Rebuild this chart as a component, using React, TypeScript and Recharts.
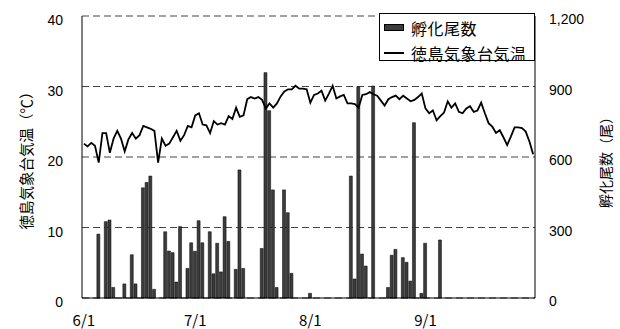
import React from 'react';
import { ComposedChart, Bar, Line, XAxis, YAxis, CartesianGrid, Legend } from 'recharts';

// Categories: every day from 6/1 to 9/30
const MONTHS = [6, 7, 8, 9];
const MONTH_DAYS = [30, 31, 31, 30];
const dates: string[] = [];
MONTHS.forEach((m, k) => {
  for (let d = 1; d <= MONTH_DAYS[k]; d++) dates.push(`${m}/${d}`);
});

// Tokushima daily air temperature (°C), 6/1 .. 9/30
const temperature = [
  21.9, 21.5, 22.0, 21.6, 19.2, 23.4, 23.4, 20.6, 22.6, 23.7,
  22.6, 20.8, 22.5, 23.4, 22.6, 23.1, 24.4, 24.2, 24.0, 23.7,
  19.2, 22.6, 21.6, 21.9, 22.8, 23.7, 22.3, 23.1, 24.4, 24.2,
  25.9, 26.2, 24.6, 24.5, 23.4, 25.1, 24.6, 24.8, 24.6, 25.8,
  25.4, 27.0, 25.7, 25.9, 28.2, 28.5, 28.3, 28.5, 28.1, 26.9,
  27.6, 27.0, 27.6, 28.6, 29.3, 29.6, 29.6, 30.1, 29.7, 29.7,
  29.6, 27.7, 28.8, 29.0, 29.4, 28.0, 29.0, 30.1, 28.3, 28.6,
  28.8, 27.6, 27.6, 27.5, 27.0, 28.8, 28.9, 29.2, 28.9, 28.7,
  28.0, 27.3, 28.2, 28.5, 28.7, 28.2, 28.7, 28.3, 27.9, 28.1,
  28.5, 29.0, 26.9, 26.2, 26.6, 25.2, 25.8, 26.3, 27.9, 27.0,
  27.6, 26.4, 26.2, 26.9, 27.2, 26.4, 26.6, 27.7, 26.2, 24.8,
  24.3, 23.4, 23.8, 22.8, 21.7, 22.9, 24.2, 24.2, 24.1, 23.6,
  22.2, 20.4,
];

// Hatched larvae count (尾) on the days that had any
const hatchDates = [
  '6/5', '6/7', '6/8', '6/9', '6/12', '6/14', '6/15', '6/17', '6/18', '6/19',
  '6/20', '6/23', '6/24', '6/25', '6/26', '6/27', '6/29', '6/30', '7/1', '7/2',
  '7/3', '7/5', '7/6', '7/7', '7/8', '7/9', '7/10', '7/12', '7/13', '7/14',
  '7/19', '7/20', '7/21', '7/22', '7/23', '7/25', '7/26', '7/27', '8/1', '8/12',
  '8/13', '8/14', '8/15', '8/16', '8/18', '8/22', '8/23', '8/24', '8/26', '8/27',
  '8/28', '8/29', '8/31', '9/1', '9/5',
];
const hatchCounts = [
  272, 325, 332, 45, 60, 184, 60, 469, 492, 519,
  37, 282, 200, 193, 68, 304, 126, 235, 199, 329,
  235, 282, 103, 233, 111, 346, 241, 122, 545, 126,
  211, 959, 797, 460, 45, 460, 363, 105, 20, 519,
  81, 899, 187, 136, 902, 45, 182, 207, 172, 152,
  72, 746, 20, 233, 247,
];

const xTicks = ['6/1', '7/1', '8/1', '9/1'];
const leftTicks = [0, 10, 20, 30, 40];
const rightTicks = [0, 300, 600, 900, 1200];

const data = dates.map((date, i) => {
  const k = hatchDates.indexOf(date);
  return { date, temp: temperature[i], hatch: k >= 0 ? hatchCounts[k] : null };
});

const NUM_FONT = '"Liberation Sans", Arial, sans-serif';
const JP_FONT = '"Noto Sans CJK JP", "Noto Sans", sans-serif';

const XTick = (props: any) => {
  const { x, y, payload } = props;
  return (
    <text x={x} y={y + 13} textAnchor="middle" dominantBaseline="central" fontFamily={JP_FONT} fontSize={15} fill="#000">
      {payload.value}
    </text>
  );
};

const LeftTick = (props: any) => {
  const { x, y, payload } = props;
  return (
    <text x={x} y={y + 4} textAnchor="end" dominantBaseline="central" fontFamily={NUM_FONT} fontSize={14} fill="#000">
      {payload.value}
    </text>
  );
};

const RightTick = (props: any) => {
  const { x, y, payload } = props;
  return (
    <text x={x} y={y + 3} textAnchor="start" dominantBaseline="central" fontFamily={NUM_FONT} fontSize={14} fill="#000">
      {Number(payload.value).toLocaleString('en-US')}
    </text>
  );
};

const LeftLabel = (props: any) => {
  const vb = props.viewBox || {};
  const cx = vb.x - 5;
  const cy = vb.y + vb.height / 2;
  return (
    <text transform={`translate(${cx}, ${cy}) rotate(-90)`} textAnchor="middle" dominantBaseline="central" fontFamily={JP_FONT} fontSize={14.5} fill="#000">
      徳島気象台気温（℃）
    </text>
  );
};

const RightLabel = (props: any) => {
  const vb = props.viewBox || {};
  const cx = vb.x + 70;
  const cy = vb.y + vb.height / 2 + 2;
  return (
    <text transform={`translate(${cx}, ${cy}) rotate(-90)`} textAnchor="middle" dominantBaseline="central" fontFamily={JP_FONT} fontSize={14} fill="#000">
      孵化尾数（尾）
    </text>
  );
};

const LegendBox = () => (
  <div
    style={{
      position: 'relative',
      width: 156,
      height: 48,
      boxSizing: 'border-box',
      border: '1px solid #000',
      background: '#fff',
      fontFamily: JP_FONT,
      fontSize: 16,
      letterSpacing: 0.5,
      color: '#000',
    }}
  >
    <div style={{ position: 'absolute', left: 4, top: 10, width: 20, height: 7, background: '#3c3c3c', border: '1px solid #000', boxSizing: 'border-box' }} />
    <div style={{ position: 'absolute', left: 31, top: 2, lineHeight: '24px', whiteSpace: 'nowrap' }}>孵化尾数</div>
    <div style={{ position: 'absolute', left: 4, top: 38, width: 20, height: 2, background: '#000' }} />
    <div style={{ position: 'absolute', left: 31, top: 27, lineHeight: '24px', whiteSpace: 'nowrap' }}>徳島気象台気温</div>
  </div>
);

export default function App() {
  return (
    <div style={{ position: 'absolute', left: 0, top: 0, width: 620, height: 329, background: '#fff' }}>
      <ComposedChart width={620} height={329} data={data} margin={{ top: 16, right: 0, bottom: 0, left: 30 }} barCategoryGap={0}>
        <CartesianGrid yAxisId="left" vertical={false} stroke="#444" strokeDasharray="7 4" />
        <XAxis
          dataKey="date"
          ticks={xTicks}
          interval={0}
          tickLine={false}
          axisLine={{ stroke: '#000' }}
          height={31}
          tick={<XTick />}
        />
        <YAxis
          yAxisId="left"
          orientation="left"
          domain={[0, 40]}
          ticks={leftTicks}
          width={52}
          tickLine={false}
          tickMargin={13}
          axisLine={{ stroke: '#000' }}
          tick={<LeftTick />}
          label={{ content: <LeftLabel /> }}
        />
        <YAxis
          yAxisId="right"
          orientation="right"
          domain={[0, 1200]}
          ticks={rightTicks}
          width={85}
          tickLine={false}
          tickMargin={8}
          axisLine={{ stroke: '#000' }}
          tick={<RightTick />}
          label={{ content: <RightLabel /> }}
        />
        <Legend
          layout="horizontal"
          verticalAlign="middle"
          align="center"
          wrapperStyle={{ top: 13, left: 379, width: 156, height: 48 }}
          content={() => <LegendBox />}
        />
        <Bar yAxisId="right" dataKey="hatch" name="孵化尾数" fill="#3c3c3c" stroke="#000" strokeWidth={0.5} barSize={3} isAnimationActive={false} />
        <Line yAxisId="left" dataKey="temp" name="徳島気象台気温" type="linear" stroke="#000" strokeWidth={1.8} dot={false} activeDot={false} isAnimationActive={false} />
      </ComposedChart>
    </div>
  );
}
